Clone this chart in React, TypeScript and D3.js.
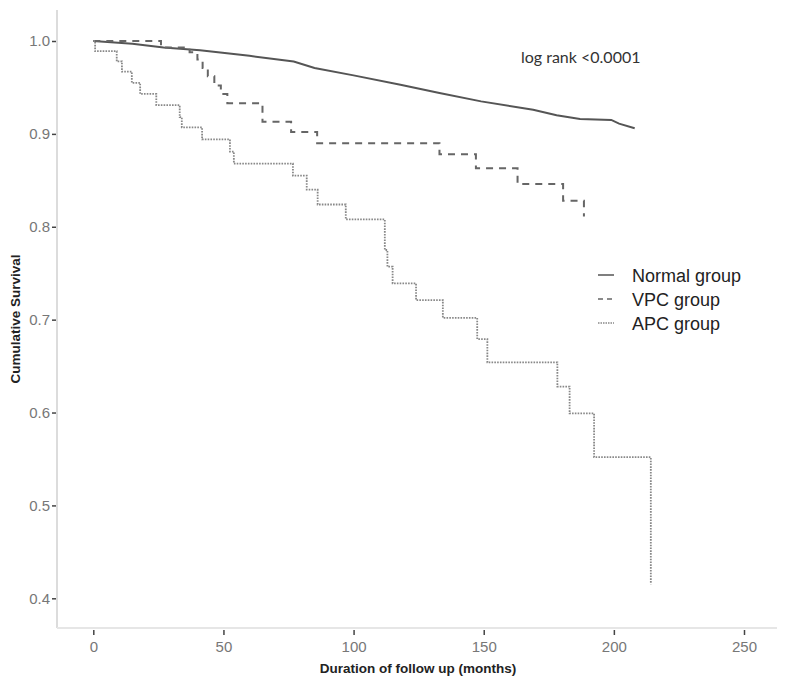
import React, { useRef, useEffect } from 'react';
import * as d3 from 'd3';

const WIDTH = 800;
const HEIGHT = 690;

// Kaplan-Meier curves: [month, cumulative survival]
const normalGroup: [number, number][] = [
  [0, 1.0], [15, 0.997], [27, 0.993], [41, 0.99], [60, 0.984], [77, 0.978],
  [85, 0.971], [100, 0.963], [118, 0.953], [133, 0.944], [149, 0.935],
  [169, 0.926], [178, 0.92], [187, 0.916], [199, 0.915], [202, 0.911], [208, 0.906],
];

const vpcGroup: [number, number][] = [
  [0, 1.0], [26, 0.993], [37, 0.988], [40, 0.98], [42, 0.971], [44, 0.962],
  [46.5, 0.952], [49, 0.943], [51.5, 0.933], [65, 0.913], [76, 0.902],
  [86, 0.89], [133, 0.878], [147, 0.863], [163, 0.846], [180.5, 0.828], [188.5, 0.811],
];

const apcGroup: [number, number][] = [
  [0, 1.0], [0.7, 0.989], [9, 0.978], [11, 0.967], [14.8, 0.955], [18, 0.943],
  [24.2, 0.931], [33.2, 0.918], [34, 0.907], [41.8, 0.894], [52.5, 0.881],
  [54, 0.868], [76.7, 0.855], [82, 0.84], [86.2, 0.824], [97, 0.808],
  [112, 0.775], [113, 0.757], [115, 0.739], [124, 0.721], [134.3, 0.702],
  [147.5, 0.679], [151.4, 0.654], [178.3, 0.628], [183, 0.599], [192.4, 0.552],
  [214.2, 0.415],
];

const xTicks = [0, 50, 100, 150, 200, 250];
const yTicks = [0.4, 0.5, 0.6, 0.7, 0.8, 0.9, 1.0];

const legendLabels = ['Normal group', 'VPC group', 'APC group'];
const annotation = 'log rank <0.0001';

const SERIES = [
  { data: normalGroup, stroke: '#555', width: 2, dash: null as string | null, step: false },
  { data: vpcGroup, stroke: '#666', width: 2, dash: '7,6', step: true },
  { data: apcGroup, stroke: '#888', width: 1.8, dash: '1.6,1.2', step: true },
];

export default function App() {
  const svgRef = useRef<SVGSVGElement | null>(null);

  useEffect(() => {
    const svg = d3.select(svgRef.current);
    svg.selectAll('*').remove();

    // plot frame: left axis at x≈57, bottom axis at y≈628
    const x = d3.scaleLinear().domain([0, 250]).range([93.3, 744]);
    const y = d3.scaleLinear().domain([0.4, 1.0]).range([598.3, 41]);
    const left = 57;
    const bottom = 628;

    // Y axis
    const yAxis = svg.append('g')
      .attr('transform', `translate(${left},0)`)
      .call(d3.axisLeft(y).tickValues(yTicks).tickFormat(d3.format('.1f')).tickSize(5).tickPadding(2).tickSizeOuter(0));
    yAxis.select('.domain').remove();
    yAxis.append('line')
      .attr('x1', 0).attr('x2', 0).attr('y1', 10).attr('y2', bottom)
      .attr('stroke', '#dcdcdc').attr('stroke-width', 2);
    yAxis.selectAll('.tick line').attr('stroke', '#444').attr('stroke-width', 1.5);
    yAxis.selectAll('.tick text')
      .attr('fill', '#777').attr('font-size', '15px')
      .attr('font-family', '"Liberation Sans", Arial, sans-serif');

    // X axis
    const xAxis = svg.append('g')
      .attr('transform', `translate(0,${bottom})`)
      .call(d3.axisBottom(x).tickValues(xTicks).tickSize(7).tickPadding(6).tickSizeOuter(0));
    xAxis.select('.domain').remove();
    xAxis.append('line')
      .attr('x1', left).attr('x2', 777).attr('y1', 0).attr('y2', 0)
      .attr('stroke', '#e6e6e6').attr('stroke-width', 2);
    xAxis.selectAll('.tick line').attr('y1', 2).attr('stroke', '#444').attr('stroke-width', 1.5);
    xAxis.selectAll('.tick text')
      .attr('fill', '#777').attr('font-size', '15px')
      .attr('font-family', '"Liberation Sans", Arial, sans-serif');

    // Axis titles
    svg.append('text')
      .attr('x', 418).attr('y', 673)
      .attr('text-anchor', 'middle')
      .attr('font-family', '"Liberation Sans", Arial, sans-serif')
      .attr('font-weight', 'bold').attr('font-size', '13.5px').attr('fill', '#222')
      .text('Duration of follow up (months)');

    svg.append('text')
      .attr('transform', 'translate(20,319) rotate(-90)')
      .attr('text-anchor', 'middle')
      .attr('font-family', '"Liberation Sans", Arial, sans-serif')
      .attr('font-weight', 'bold').attr('font-size', '13.5px').attr('fill', '#222')
      .text('Cumulative Survival');

    // Curves
    SERIES.forEach((s) => {
      const line = d3.line<[number, number]>()
        .x(d => x(d[0]))
        .y(d => y(d[1]))
        .curve(s.step ? d3.curveStepAfter : d3.curveLinear);
      const path = svg.append('path')
        .datum(s.data)
        .attr('d', line)
        .attr('fill', 'none')
        .attr('stroke', s.stroke)
        .attr('stroke-width', s.width);
      if (s.dash) path.attr('stroke-dasharray', s.dash);
    });

    // Annotation
    svg.append('text')
      .attr('x', 521).attr('y', 63)
      .attr('font-family', 'Lato, "Open Sans", sans-serif')
      .attr('font-size', '16px').attr('fill', '#333')
      .text(annotation);

    // Legend
    const legend = svg.append('g');
    legendLabels.forEach((label, i) => {
      const ly = 275 + i * 24;
      const s = SERIES[i];
      const l = legend.append('line')
        .attr('x1', 598).attr('x2', 614).attr('y1', ly).attr('y2', ly)
        .attr('stroke', s.stroke).attr('stroke-width', i === 2 ? 1.5 : 1.5);
      if (i === 1) l.attr('stroke-dasharray', '5,4');
      if (i === 2) l.attr('stroke-dasharray', '1.5,1');
      legend.append('text')
        .attr('x', 632).attr('y', ly + 6.5)
        .attr('font-family', '"Liberation Sans", Arial, sans-serif')
        .attr('font-size', '18px').attr('fill', '#222')
        .text(label);
    });
  }, []);

  return (
    <svg
      ref={svgRef}
      width={WIDTH}
      height={HEIGHT}
      style={{ position: 'absolute', left: 0, top: 0, background: '#fff' }}
    />
  );
}
